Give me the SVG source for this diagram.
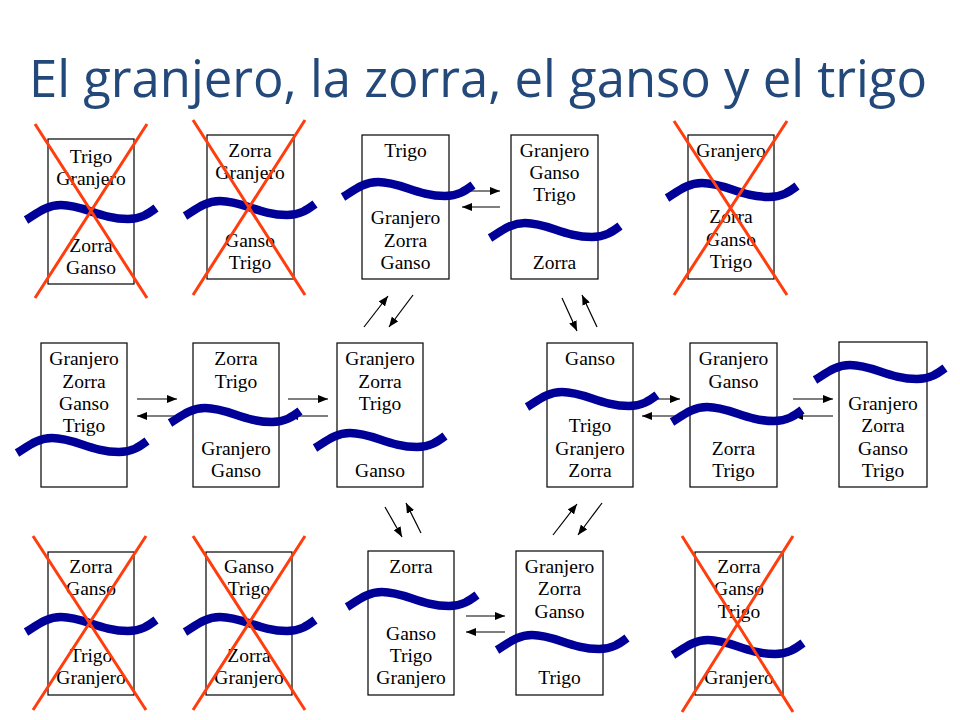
<svg xmlns="http://www.w3.org/2000/svg" width="960" height="720" viewBox="0 0 960 720">
<defs>
<style>
.box{fill:none;stroke:#000;stroke-width:1.2}
.t{font-family:"Liberation Serif","Times New Roman",serif;font-size:19.5px;fill:#000;text-anchor:middle}
.river{fill:none;stroke:#000099;stroke-width:8.5}
.x{stroke:#FF3D0D;stroke-width:3;fill:none}
.c{stroke:#000;stroke-width:1.2;fill:none;marker-end:url(#ah)}
.title{font-family:"Open Sans","Noto Sans","Liberation Sans",sans-serif;font-size:51px;fill:#23497A}
</style>
<marker id="ah" markerUnits="userSpaceOnUse" markerWidth="10" markerHeight="8" refX="10" refY="4" orient="auto">
<path d="M0,0 L10,4 L0,8 z" fill="#000"/>
</marker>
<path id="w" d="M0,0 C10,-6 20,-15 35,-15 C58,-15 74,-1 102,-1 C115,-1 122,-6 130,-12"/>
</defs>
<rect width="960" height="720" fill="#fff"/>
<text class="title" x="29" y="97" textLength="898" lengthAdjust="spacingAndGlyphs">El granjero, la zorra, el ganso y el trigo</text>

<g id="connectors">
<line class="c" x1="462" y1="191" x2="500" y2="191"/>
<line class="c" x1="500" y1="207" x2="462" y2="207"/>
<line class="c" x1="364" y1="327" x2="388" y2="296"/>
<line class="c" x1="413" y1="295" x2="389" y2="327"/>
<line class="c" x1="562" y1="298" x2="577" y2="331"/>
<line class="c" x1="597" y1="327" x2="582" y2="295"/>
<line class="c" x1="137" y1="399" x2="177" y2="399"/>
<line class="c" x1="177" y1="416" x2="137" y2="416"/>
<line class="c" x1="288" y1="399" x2="328" y2="399"/>
<line class="c" x1="328" y1="416" x2="288" y2="416"/>
<line class="c" x1="645" y1="399" x2="680" y2="399"/>
<line class="c" x1="680" y1="416" x2="642" y2="416"/>
<line class="c" x1="793" y1="399" x2="833" y2="399"/>
<line class="c" x1="833" y1="416" x2="793" y2="416"/>
<line class="c" x1="385" y1="507" x2="402" y2="537"/>
<line class="c" x1="421" y1="533" x2="406" y2="503"/>
<line class="c" x1="553" y1="535" x2="577" y2="504"/>
<line class="c" x1="602" y1="503" x2="578" y2="535"/>
<line class="c" x1="466" y1="616" x2="505" y2="616"/>
<line class="c" x1="505" y1="632" x2="466" y2="632"/>
</g>

<g id="n1">
<rect class="box" x="48" y="139" width="86" height="145"/>
<text class="t" x="91" y="162.5">Trigo</text><text class="t" x="91" y="184.5">Granjero</text>
<text class="t" x="91" y="251.5">Zorra</text><text class="t" x="91" y="273.5">Ganso</text>
<use href="#w" class="river" x="26" y="220"/>
<path class="x" d="M35,124 L147,298 M147,124 L35,298"/>
</g>
<g id="n2">
<rect class="box" x="207" y="135" width="87" height="144"/>
<text class="t" x="250" y="156.5">Zorra</text><text class="t" x="250" y="178.5">Granjero</text>
<text class="t" x="250" y="246.5">Ganso</text><text class="t" x="250" y="268.5">Trigo</text>
<use href="#w" class="river" x="185" y="216"/>
<path class="x" d="M193,120 L305,295 M305,120 L193,295"/>
</g>
<g id="n3">
<rect class="box" x="362" y="135" width="87" height="144"/>
<text class="t" x="405.5" y="156.5">Trigo</text>
<text class="t" x="405.5" y="224">Granjero</text><text class="t" x="405.5" y="246.5">Zorra</text><text class="t" x="405.5" y="268.5">Ganso</text>
<use href="#w" class="river" x="343" y="197"/>
</g>
<g id="n4">
<rect class="box" x="511" y="135" width="87" height="144"/>
<text class="t" x="554.5" y="156.5">Granjero</text><text class="t" x="554.5" y="178.5">Ganso</text><text class="t" x="554.5" y="201">Trigo</text>
<text class="t" x="554.5" y="268.5">Zorra</text>
<use href="#w" class="river" x="490" y="238"/>
</g>
<g id="n5">
<rect class="box" x="688" y="135" width="86" height="144"/>
<text class="t" x="731" y="156.5">Granjero</text>
<text class="t" x="731" y="223">Zorra</text><text class="t" x="731" y="245.5">Ganso</text><text class="t" x="731" y="268">Trigo</text>
<use href="#w" class="river" x="667" y="198"/>
<path class="x" d="M674,121 L787,295 M787,121 L674,295"/>
</g>

<g id="n6">
<rect class="box" x="41" y="343" width="86" height="144"/>
<text class="t" x="84" y="365">Granjero</text><text class="t" x="84" y="387.5">Zorra</text><text class="t" x="84" y="410">Ganso</text><text class="t" x="84" y="432">Trigo</text>
<use href="#w" class="river" x="17" y="453"/>
</g>
<g id="n7">
<rect class="box" x="193" y="343" width="86" height="144"/>
<text class="t" x="236" y="365">Zorra</text><text class="t" x="236" y="387.5">Trigo</text>
<text class="t" x="236" y="455">Granjero</text><text class="t" x="236" y="477">Ganso</text>
<use href="#w" class="river" x="170" y="423"/>
</g>
<g id="n8">
<rect class="box" x="337" y="343" width="86" height="144"/>
<text class="t" x="380" y="365">Granjero</text><text class="t" x="380" y="387.5">Zorra</text><text class="t" x="380" y="410">Trigo</text>
<text class="t" x="380" y="477">Ganso</text>
<use href="#w" class="river" x="315" y="448"/>
</g>
<g id="n9">
<rect class="box" x="547" y="343" width="86" height="144"/>
<text class="t" x="590" y="365">Ganso</text>
<text class="t" x="590" y="432">Trigo</text><text class="t" x="590" y="455">Granjero</text><text class="t" x="590" y="477">Zorra</text>
<use href="#w" class="river" x="527" y="407"/>
</g>
<g id="n10">
<rect class="box" x="690" y="343" width="87" height="144"/>
<text class="t" x="733.5" y="365">Granjero</text><text class="t" x="733.5" y="387.5">Ganso</text>
<text class="t" x="733.5" y="455">Zorra</text><text class="t" x="733.5" y="477">Trigo</text>
<use href="#w" class="river" x="672" y="422"/>
</g>
<g id="n11">
<rect class="box" x="839" y="342" width="88" height="145"/>
<text class="t" x="883" y="410">Granjero</text><text class="t" x="883" y="432">Zorra</text><text class="t" x="883" y="455">Ganso</text><text class="t" x="883" y="477">Trigo</text>
<use href="#w" class="river" x="815" y="380"/>
</g>

<g id="n12">
<rect class="box" x="48" y="552" width="86" height="143"/>
<text class="t" x="91" y="573">Zorra</text><text class="t" x="91" y="595">Ganso</text>
<text class="t" x="91" y="662">Trigo</text><text class="t" x="91" y="684">Granjero</text>
<use href="#w" class="river" x="26" y="632"/>
<path class="x" d="M33,536 L146,710 M146,536 L33,710"/>
</g>
<g id="n13">
<rect class="box" x="206" y="552" width="86" height="143"/>
<text class="t" x="249" y="573">Ganso</text><text class="t" x="249" y="595">Trigo</text>
<text class="t" x="249" y="662">Zorra</text><text class="t" x="249" y="684">Granjero</text>
<use href="#w" class="river" x="185" y="632"/>
<path class="x" d="M193,536 L305,710 M305,536 L193,710"/>
</g>
<g id="n14">
<rect class="box" x="368" y="551" width="86" height="144"/>
<text class="t" x="411" y="573">Zorra</text>
<text class="t" x="411" y="640">Ganso</text><text class="t" x="411" y="662">Trigo</text><text class="t" x="411" y="684">Granjero</text>
<use href="#w" class="river" x="347" y="607"/>
</g>
<g id="n15">
<rect class="box" x="516" y="551" width="87" height="144"/>
<text class="t" x="559.5" y="573">Granjero</text><text class="t" x="559.5" y="595">Zorra</text><text class="t" x="559.5" y="617.5">Ganso</text>
<text class="t" x="559.5" y="684">Trigo</text>
<use href="#w" class="river" x="497" y="650"/>
</g>
<g id="n16">
<rect class="box" x="695" y="552" width="88" height="143"/>
<text class="t" x="739" y="573">Zorra</text><text class="t" x="739" y="595">Ganso</text><text class="t" x="739" y="617.5">Trigo</text>
<text class="t" x="739" y="684">Granjero</text>
<use href="#w" class="river" x="673" y="655"/>
<path class="x" d="M682,536 L793,712 M793,536 L682,712"/>
</g>
</svg>
